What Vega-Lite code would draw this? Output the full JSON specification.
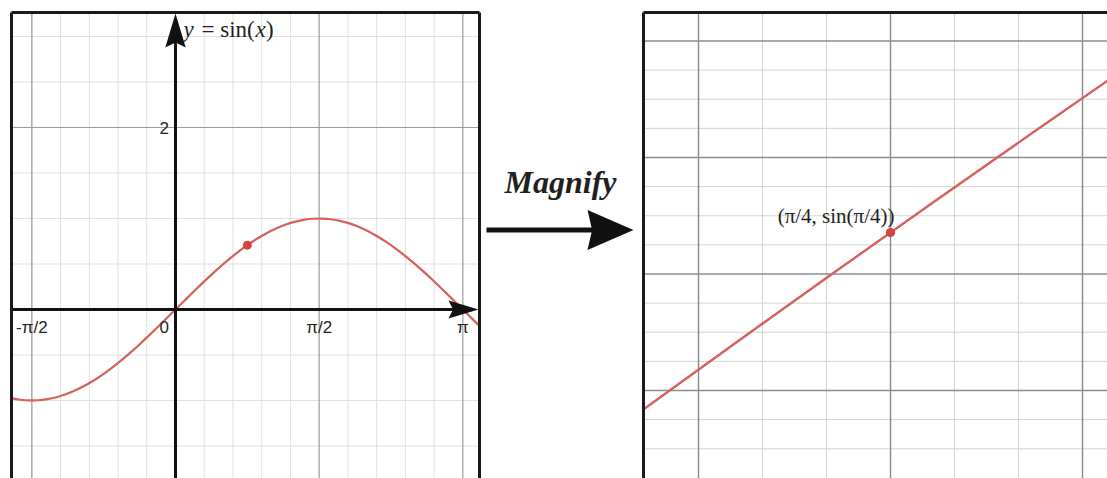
{
  "$schema": "https://vega.github.io/schema/vega-lite/v6.json",
  "background": "white",
  "padding": {"left": 9.5, "top": 10.5, "right": 0, "bottom": 0},
  "spacing": 0,
  "bounds": "flush",
  "config": {"view": {"stroke": null}},
  "datasets": {
    "sineWide": [
      {"x": -1.8, "y": -0.9738}, {"x": -1.7, "y": -0.9917}, {"x": -1.6, "y": -0.9996}, {"x": -1.5, "y": -0.9975},
      {"x": -1.4, "y": -0.9854}, {"x": -1.3, "y": -0.9636}, {"x": -1.2, "y": -0.932}, {"x": -1.1, "y": -0.8912},
      {"x": -1.0, "y": -0.8415}, {"x": -0.9, "y": -0.7833}, {"x": -0.8, "y": -0.7174}, {"x": -0.7, "y": -0.6442},
      {"x": -0.6, "y": -0.5646}, {"x": -0.5, "y": -0.4794}, {"x": -0.4, "y": -0.3894}, {"x": -0.3, "y": -0.2955},
      {"x": -0.2, "y": -0.1987}, {"x": -0.1, "y": -0.0998}, {"x": 0.0, "y": 0.0}, {"x": 0.1, "y": 0.0998},
      {"x": 0.2, "y": 0.1987}, {"x": 0.3, "y": 0.2955}, {"x": 0.4, "y": 0.3894}, {"x": 0.5, "y": 0.4794},
      {"x": 0.6, "y": 0.5646}, {"x": 0.7, "y": 0.6442}, {"x": 0.8, "y": 0.7174}, {"x": 0.9, "y": 0.7833},
      {"x": 1.0, "y": 0.8415}, {"x": 1.1, "y": 0.8912}, {"x": 1.2, "y": 0.932}, {"x": 1.3, "y": 0.9636},
      {"x": 1.4, "y": 0.9854}, {"x": 1.5, "y": 0.9975}, {"x": 1.6, "y": 0.9996}, {"x": 1.7, "y": 0.9917},
      {"x": 1.8, "y": 0.9738}, {"x": 1.9, "y": 0.9463}, {"x": 2.0, "y": 0.9093}, {"x": 2.1, "y": 0.8632},
      {"x": 2.2, "y": 0.8085}, {"x": 2.3, "y": 0.7457}, {"x": 2.4, "y": 0.6755}, {"x": 2.5, "y": 0.5985},
      {"x": 2.6, "y": 0.5155}, {"x": 2.7, "y": 0.4274}, {"x": 2.8, "y": 0.335}, {"x": 2.9, "y": 0.2392},
      {"x": 3.0, "y": 0.1411}, {"x": 3.1, "y": 0.0416}, {"x": 3.2, "y": -0.0584}, {"x": 3.3, "y": -0.1577},
      {"x": 3.4, "y": -0.2555}
    ],
    "leftXMinor": [
      {"x": -1.5708}, {"x": -1.2566}, {"x": -0.9425}, {"x": -0.6283}, {"x": -0.3142}, {"x": 0.3142},
      {"x": 0.6283}, {"x": 0.9425}, {"x": 1.2566}, {"x": 1.885}, {"x": 2.1991}, {"x": 2.5133}, {"x": 2.8274}
    ],
    "leftXMajor": [{"x": -1.5708}, {"x": 1.5708}, {"x": 3.1416}],
    "leftYMinor": [
      {"y": -1.5}, {"y": -1.0}, {"y": -0.5}, {"y": 0.5}, {"y": 1.0}, {"y": 1.5}, {"y": 2.5}, {"y": 3.0}
    ],
    "leftYMajor": [{"y": 2.0}],
    "leftTicks": [
      {"x": -1.5708, "label": "-π/2"}, {"x": 1.5708, "label": "π/2"}, {"x": 3.1416, "label": "π"}
    ],
    "leftPoint": [{"x": 0.7854, "y": 0.7071}],
    "sineNear": [
      {"x": 0.76, "y": 0.68892143}, {"x": 0.77, "y": 0.69613523}, {"x": 0.78, "y": 0.70327942},
      {"x": 0.79, "y": 0.71035327}, {"x": 0.8, "y": 0.71735609}, {"x": 0.81, "y": 0.72428716}
    ],
    "rightXMinor": [
      {"x": 0.772598}, {"x": 0.778998}, {"x": 0.791798}, {"x": 0.798198}
    ],
    "rightXMajor": [{"x": 0.766198}, {"x": 0.785398}, {"x": 0.804598}],
    "rightYMinor": [
      {"y": 0.723345}, {"y": 0.720432}, {"y": 0.71752}, {"y": 0.711695}, {"y": 0.708782}, {"y": 0.70587},
      {"y": 0.700045}, {"y": 0.697132}, {"y": 0.69422}, {"y": 0.688395}, {"y": 0.685482}
    ],
    "rightYMajor": [{"y": 0.726257}, {"y": 0.714607}, {"y": 0.702957}, {"y": 0.691307}],
    "rightPoint": [{"x": 0.785398, "y": 0.707107, "label": "(π/4, sin(π/4))"}]
  },
  "hconcat": [
    {
      "width": 468,
      "height": 466,
      "data": {"values": [{"panel": "sine"}]},
      "layer": [
        {
          "data": {"name": "leftXMinor"},
          "mark": {"type": "rule", "color": "#e0e0e0", "strokeWidth": 1},
          "encoding": {"x": {"field": "x", "type": "quantitative", "scale": {"domain": [-1.7931, 3.3238], "nice": false, "zero": false}, "axis": null}}
        },
        {
          "data": {"name": "leftYMinor"},
          "mark": {"type": "rule", "color": "#e0e0e0", "strokeWidth": 1},
          "encoding": {"y": {"field": "y", "type": "quantitative", "scale": {"domain": [-1.8571, 3.2637], "nice": false, "zero": false}, "axis": null}}
        },
        {
          "data": {"name": "leftXMajor"},
          "mark": {"type": "rule", "color": "#9c9c9c", "strokeWidth": 1.2},
          "encoding": {"x": {"field": "x", "type": "quantitative", "scale": {"domain": [-1.7931, 3.3238], "nice": false, "zero": false}, "axis": null}}
        },
        {
          "data": {"name": "leftYMajor"},
          "mark": {"type": "rule", "color": "#9c9c9c", "strokeWidth": 1.2},
          "encoding": {"y": {"field": "y", "type": "quantitative", "scale": {"domain": [-1.8571, 3.2637], "nice": false, "zero": false}, "axis": null}}
        },
        {
          "data": {"name": "sineWide"},
          "mark": {"type": "line", "color": "#d6605c", "strokeWidth": 2.2, "interpolate": "monotone", "clip": true},
          "encoding": {
            "x": {"field": "x", "type": "quantitative", "scale": {"domain": [-1.7931, 3.3238], "nice": false, "zero": false}, "axis": null},
            "y": {"field": "y", "type": "quantitative", "scale": {"domain": [-1.8571, 3.2637], "nice": false, "zero": false}, "axis": null}
          }
        },
        {
          "mark": {"type": "rule", "color": "#111111", "strokeWidth": 3},
          "encoding": {
            "x": {"datum": -1.7931, "type": "quantitative", "scale": {"domain": [-1.7931, 3.3238], "nice": false, "zero": false}, "axis": null},
            "x2": {"datum": 3.12},
            "y": {"datum": 0, "type": "quantitative", "scale": {"domain": [-1.8571, 3.2637], "nice": false, "zero": false}, "axis": null}
          }
        },
        {
          "mark": {"type": "rule", "color": "#111111", "strokeWidth": 3},
          "encoding": {
            "x": {"datum": 0, "type": "quantitative", "scale": {"domain": [-1.7931, 3.3238], "nice": false, "zero": false}, "axis": null},
            "y": {"datum": -1.8571, "type": "quantitative", "scale": {"domain": [-1.8571, 3.2637], "nice": false, "zero": false}, "axis": null},
            "y2": {"datum": 3.0}
          }
        },
        {
          "mark": {"type": "point", "shape": "M0,-1L0.6,1L0,0.7L-0.6,1Z", "filled": true, "color": "#111111", "opacity": 1, "size": 1156},
          "encoding": {
            "x": {"datum": 0, "type": "quantitative", "scale": {"domain": [-1.7931, 3.3238], "nice": false, "zero": false}, "axis": null},
            "y": {"datum": 3.066, "type": "quantitative", "scale": {"domain": [-1.8571, 3.2637], "nice": false, "zero": false}, "axis": null}
          }
        },
        {
          "mark": {"type": "point", "shape": "M0,-1L0.6,1L0,0.7L-0.6,1Z", "filled": true, "color": "#111111", "opacity": 1, "size": 900, "angle": 90},
          "encoding": {
            "x": {"datum": 3.149, "type": "quantitative", "scale": {"domain": [-1.7931, 3.3238], "nice": false, "zero": false}, "axis": null},
            "y": {"datum": 0, "type": "quantitative", "scale": {"domain": [-1.8571, 3.2637], "nice": false, "zero": false}, "axis": null}
          }
        },
        {
          "data": {"name": "leftPoint"},
          "mark": {"type": "point", "filled": true, "color": "#d2443f", "opacity": 1, "size": 80},
          "encoding": {
            "x": {"field": "x", "type": "quantitative", "scale": {"domain": [-1.7931, 3.3238], "nice": false, "zero": false}, "axis": null},
            "y": {"field": "y", "type": "quantitative", "scale": {"domain": [-1.8571, 3.2637], "nice": false, "zero": false}, "axis": null}
          }
        },
        {
          "data": {"name": "leftTicks"},
          "mark": {"type": "text", "font": "Liberation Sans", "fontSize": 17, "color": "#231f20", "align": "center", "baseline": "alphabetic", "dy": 23.5},
          "encoding": {
            "x": {"field": "x", "type": "quantitative", "scale": {"domain": [-1.7931, 3.3238], "nice": false, "zero": false}, "axis": null},
            "y": {"datum": 0, "type": "quantitative", "scale": {"domain": [-1.8571, 3.2637], "nice": false, "zero": false}, "axis": null},
            "text": {"field": "label"}
          }
        },
        {
          "mark": {"type": "text", "text": "0", "font": "Liberation Sans", "fontSize": 17, "color": "#231f20", "align": "right", "baseline": "alphabetic", "dx": -6.5, "dy": 23.5},
          "encoding": {
            "x": {"datum": 0, "type": "quantitative", "scale": {"domain": [-1.7931, 3.3238], "nice": false, "zero": false}, "axis": null},
            "y": {"datum": 0, "type": "quantitative", "scale": {"domain": [-1.8571, 3.2637], "nice": false, "zero": false}, "axis": null}
          }
        },
        {
          "mark": {"type": "text", "text": "2", "font": "Liberation Sans", "fontSize": 17, "color": "#231f20", "align": "right", "baseline": "middle", "dx": -6.5, "dy": 1.5},
          "encoding": {
            "x": {"datum": 0, "type": "quantitative", "scale": {"domain": [-1.7931, 3.3238], "nice": false, "zero": false}, "axis": null},
            "y": {"datum": 2, "type": "quantitative", "scale": {"domain": [-1.8571, 3.2637], "nice": false, "zero": false}, "axis": null}
          }
        },
        {
          "mark": {"type": "text", "text": "y", "font": "Liberation Serif", "fontStyle": "italic", "fontSize": 23, "color": "#231f20", "align": "left", "baseline": "alphabetic", "dx": 8, "dy": 24.5},
          "encoding": {
            "x": {"datum": 0, "type": "quantitative", "scale": {"domain": [-1.7931, 3.3238], "nice": false, "zero": false}, "axis": null},
            "y": {"datum": 3.2637, "type": "quantitative", "scale": {"domain": [-1.8571, 3.2637], "nice": false, "zero": false}, "axis": null}
          }
        },
        {
          "mark": {"type": "text", "text": "= sin(", "font": "Liberation Serif", "fontSize": 23, "color": "#231f20", "align": "left", "baseline": "alphabetic", "dx": 26, "dy": 24.5},
          "encoding": {
            "x": {"datum": 0, "type": "quantitative", "scale": {"domain": [-1.7931, 3.3238], "nice": false, "zero": false}, "axis": null},
            "y": {"datum": 3.2637, "type": "quantitative", "scale": {"domain": [-1.8571, 3.2637], "nice": false, "zero": false}, "axis": null}
          }
        },
        {
          "mark": {"type": "text", "text": "x", "font": "Liberation Serif", "fontStyle": "italic", "fontSize": 23, "color": "#231f20", "align": "left", "baseline": "alphabetic", "dx": 80, "dy": 24.5},
          "encoding": {
            "x": {"datum": 0, "type": "quantitative", "scale": {"domain": [-1.7931, 3.3238], "nice": false, "zero": false}, "axis": null},
            "y": {"datum": 3.2637, "type": "quantitative", "scale": {"domain": [-1.8571, 3.2637], "nice": false, "zero": false}, "axis": null}
          }
        },
        {
          "mark": {"type": "text", "text": ")", "font": "Liberation Serif", "fontSize": 23, "color": "#231f20", "align": "left", "baseline": "alphabetic", "dx": 90.5, "dy": 24.5},
          "encoding": {
            "x": {"datum": 0, "type": "quantitative", "scale": {"domain": [-1.7931, 3.3238], "nice": false, "zero": false}, "axis": null},
            "y": {"datum": 3.2637, "type": "quantitative", "scale": {"domain": [-1.8571, 3.2637], "nice": false, "zero": false}, "axis": null}
          }
        },
        {
          "mark": {"type": "rule", "color": "#1a1a1a", "strokeWidth": 3},
          "encoding": {"x": {"datum": -1.7931, "type": "quantitative", "scale": {"domain": [-1.7931, 3.3238], "nice": false, "zero": false}, "axis": null}}
        },
        {
          "mark": {"type": "rule", "color": "#1a1a1a", "strokeWidth": 3},
          "encoding": {"x": {"datum": 3.3238, "type": "quantitative", "scale": {"domain": [-1.7931, 3.3238], "nice": false, "zero": false}, "axis": null}}
        },
        {
          "mark": {"type": "rule", "color": "#1a1a1a", "strokeWidth": 3},
          "encoding": {"y": {"datum": 3.2637, "type": "quantitative", "scale": {"domain": [-1.8571, 3.2637], "nice": false, "zero": false}, "axis": null}}
        }
      ]
    },
    {
      "width": 164,
      "height": 466,
      "data": {"values": [{"panel": "magnify"}]},
      "layer": [
        {
          "mark": {"type": "text", "text": "Magnify", "font": "Liberation Serif", "fontStyle": "italic", "fontWeight": "bold", "fontSize": 32, "color": "#231f20", "align": "center", "baseline": "alphabetic"},
          "encoding": {
            "x": {"datum": 0.494, "type": "quantitative", "scale": {"domain": [0, 1], "nice": false, "zero": false}, "axis": null},
            "y": {"datum": 0.6137, "type": "quantitative", "scale": {"domain": [0, 1], "nice": false, "zero": false}, "axis": null}
          }
        },
        {
          "mark": {"type": "rule", "color": "#111111", "strokeWidth": 5},
          "encoding": {
            "x": {"datum": 0.0427, "type": "quantitative", "scale": {"domain": [0, 1], "nice": false, "zero": false}, "axis": null},
            "x2": {"datum": 0.76},
            "y": {"datum": 0.5333, "type": "quantitative", "scale": {"domain": [0, 1], "nice": false, "zero": false}, "axis": null}
          }
        },
        {
          "mark": {"type": "point", "shape": "M1,0L-1,-0.87L-0.8,0L-1,0.87Z", "filled": true, "color": "#111111", "opacity": 1, "size": 2116},
          "encoding": {
            "x": {"datum": 0.7988, "type": "quantitative", "scale": {"domain": [0, 1], "nice": false, "zero": false}, "axis": null},
            "y": {"datum": 0.5333, "type": "quantitative", "scale": {"domain": [0, 1], "nice": false, "zero": false}, "axis": null}
          }
        }
      ]
    },
    {
      "width": 464,
      "height": 466,
      "data": {"values": [{"panel": "zoom"}]},
      "layer": [
        {
          "data": {"name": "rightXMinor"},
          "mark": {"type": "rule", "color": "#d4d4d4", "strokeWidth": 1},
          "encoding": {"x": {"field": "x", "type": "quantitative", "scale": {"domain": [0.760698, 0.807098], "nice": false, "zero": false}, "axis": null}}
        },
        {
          "data": {"name": "rightYMinor"},
          "mark": {"type": "rule", "color": "#d4d4d4", "strokeWidth": 1},
          "encoding": {"y": {"field": "y", "type": "quantitative", "scale": {"domain": [0.682507, 0.729107], "nice": false, "zero": false}, "axis": null}}
        },
        {
          "data": {"name": "rightXMajor"},
          "mark": {"type": "rule", "color": "#888888", "strokeWidth": 1.4},
          "encoding": {"x": {"field": "x", "type": "quantitative", "scale": {"domain": [0.760698, 0.807098], "nice": false, "zero": false}, "axis": null}}
        },
        {
          "data": {"name": "rightYMajor"},
          "mark": {"type": "rule", "color": "#8c8c8c", "strokeWidth": 1.4},
          "encoding": {"y": {"field": "y", "type": "quantitative", "scale": {"domain": [0.682507, 0.729107], "nice": false, "zero": false}, "axis": null}}
        },
        {
          "data": {"name": "sineNear"},
          "mark": {"type": "line", "color": "#d6605c", "strokeWidth": 2.4, "interpolate": "monotone", "clip": true},
          "encoding": {
            "x": {"field": "x", "type": "quantitative", "scale": {"domain": [0.760698, 0.807098], "nice": false, "zero": false}, "axis": null},
            "y": {"field": "y", "type": "quantitative", "scale": {"domain": [0.682507, 0.729107], "nice": false, "zero": false}, "axis": null}
          }
        },
        {
          "data": {"name": "rightPoint"},
          "mark": {"type": "point", "filled": true, "color": "#d2443f", "opacity": 1, "size": 85},
          "encoding": {
            "x": {"field": "x", "type": "quantitative", "scale": {"domain": [0.760698, 0.807098], "nice": false, "zero": false}, "axis": null},
            "y": {"field": "y", "type": "quantitative", "scale": {"domain": [0.682507, 0.729107], "nice": false, "zero": false}, "axis": null}
          }
        },
        {
          "data": {"name": "rightPoint"},
          "mark": {"type": "text", "font": "Liberation Serif", "fontSize": 21, "color": "#231f20", "align": "right", "baseline": "alphabetic", "dx": 4, "dy": -9.5},
          "encoding": {
            "x": {"field": "x", "type": "quantitative", "scale": {"domain": [0.760698, 0.807098], "nice": false, "zero": false}, "axis": null},
            "y": {"field": "y", "type": "quantitative", "scale": {"domain": [0.682507, 0.729107], "nice": false, "zero": false}, "axis": null},
            "text": {"field": "label"}
          }
        },
        {
          "mark": {"type": "rule", "color": "#1a1a1a", "strokeWidth": 3},
          "encoding": {"x": {"datum": 0.760698, "type": "quantitative", "scale": {"domain": [0.760698, 0.807098], "nice": false, "zero": false}, "axis": null}}
        },
        {
          "mark": {"type": "rule", "color": "#1a1a1a", "strokeWidth": 3},
          "encoding": {"y": {"datum": 0.729107, "type": "quantitative", "scale": {"domain": [0.682507, 0.729107], "nice": false, "zero": false}, "axis": null}}
        }
      ]
    }
  ]
}
